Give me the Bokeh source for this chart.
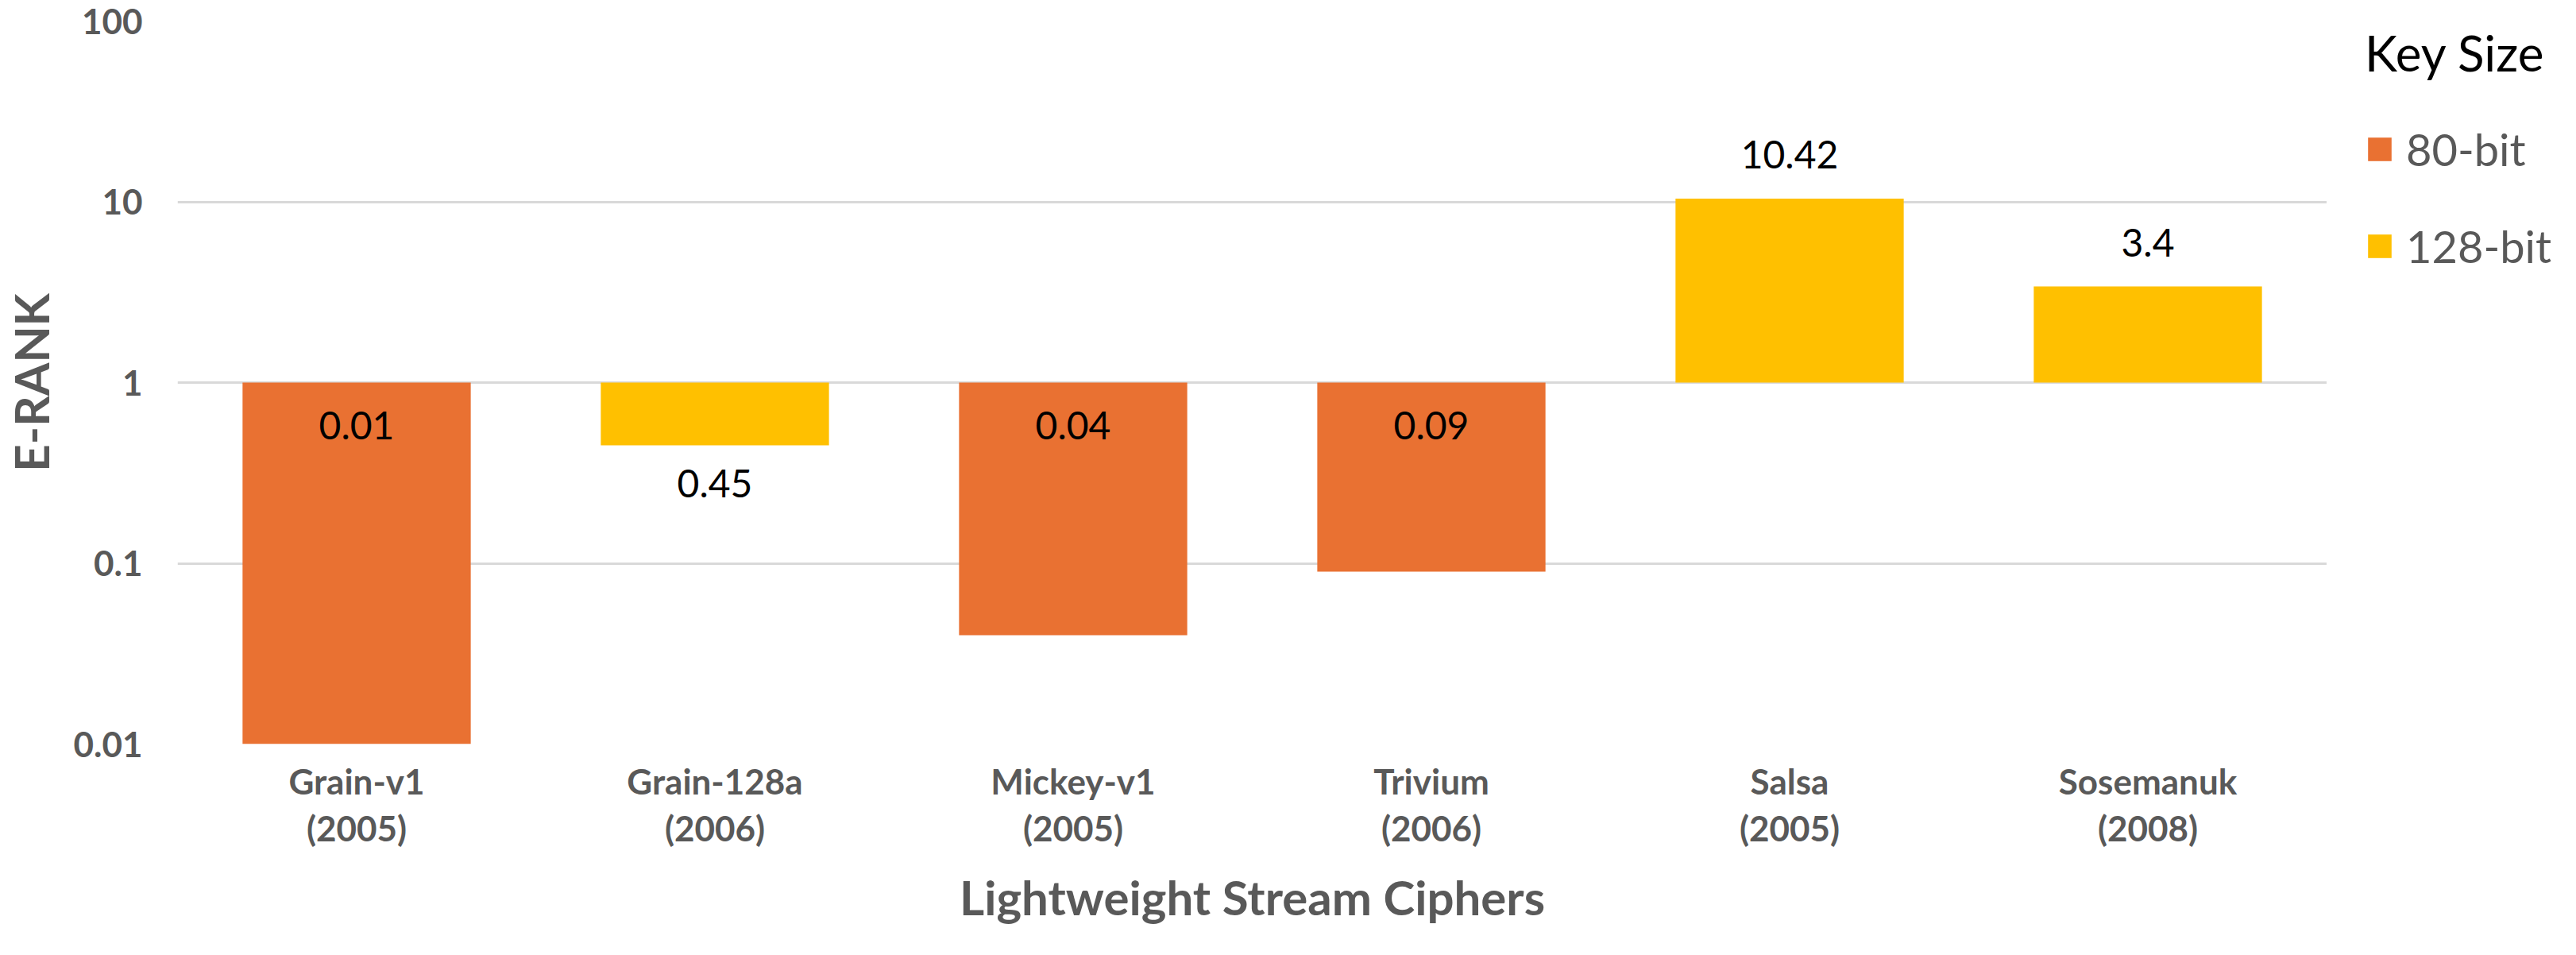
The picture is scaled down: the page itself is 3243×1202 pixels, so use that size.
from bokeh.plotting import figure
from bokeh.layouts import row
from bokeh.models import (ColumnDataSource, FixedTicker, CustomJSTickFormatter,
                          Legend, LegendItem, FactorRange, Range1d)
from bokeh.core.properties import value
from bokeh.embed import file_html
from bokeh.resources import INLINE

# ---- data ----
ciphers = ["Grain-v1", "Grain-128a", "Mickey-v1", "Trivium", "Salsa", "Sosemanuk"]
years = ["2005", "2006", "2005", "2006", "2005", "2008"]
erank = [0.01, 0.45, 0.04, 0.09, 10.42, 3.4]
key_size = ["80-bit", "128-bit", "80-bit", "80-bit", "128-bit", "128-bit"]
key_sizes = ["80-bit", "128-bit"]
y_ticks = [0.01, 0.1, 1, 10, 100]

colors = {"80-bit": "#E97132", "128-bit": "#FFC000"}
FONT = "Lato"
GREY = "#595959"

factors = [f"{c}\n({y})" for c, y in zip(ciphers, years)]

TOTAL_W, TOTAL_H = 3227, 1186
MAIN_W = 2929
BORDER_TOP, BORDER_BOTTOM = 26, 250

p = figure(width=MAIN_W, height=TOTAL_H,
           x_range=FactorRange(*factors),
           y_range=Range1d(0.01, 100), y_axis_type="log",
           output_backend="svg", toolbar_location=None,
           min_border_left=218, min_border_right=0,
           min_border_top=BORDER_TOP, min_border_bottom=BORDER_BOTTOM)

for ks in key_sizes:
    idx = [i for i, k in enumerate(key_size) if k == ks]
    src = ColumnDataSource(dict(x=[factors[i] for i in idx],
                                top=[erank[i] for i in idx],
                                bottom=[1] * len(idx)))
    p.vbar(x="x", top="top", bottom="bottom", width=0.637,
           source=src, fill_color=colors[ks], line_color=None)

# data labels
lab_y, lab_off = [], []
for v in erank:
    if v <= 0.1:
        lab_y.append(1); lab_off.append(54)
    elif v < 1:
        lab_y.append(v); lab_off.append(48)
    else:
        lab_y.append(v); lab_off.append(-55)
p.text(x=factors, y=lab_y, text=[str(v) for v in erank], y_offset=lab_off,
       text_align="center", text_baseline="middle",
       text_font=value(FONT), text_font_size="48px", text_color="black")

# axes
p.yaxis.ticker = FixedTicker(ticks=y_ticks)
p.yaxis.formatter = CustomJSTickFormatter(code="return tick.toString();")
for ax in (p.xaxis[0], p.yaxis[0]):
    ax.axis_line_color = None
    ax.major_tick_line_color = None
    ax.minor_tick_line_color = None
    ax.major_tick_out = 0
    ax.major_tick_in = 0
    ax.major_label_text_font = FONT
    ax.major_label_text_font_style = "bold"
    ax.major_label_text_color = GREY
    ax.major_label_text_font_size = "44px"
    ax.axis_label_text_font = FONT
    ax.axis_label_text_font_style = "bold"
    ax.axis_label_text_color = GREY
    ax.axis_label_text_font_size = "60px"

p.yaxis.major_label_standoff = 44
p.yaxis.axis_label = "E-RANK"
p.yaxis.axis_label_standoff = 14

p.xaxis.major_label_standoff = 20
p.xaxis.major_label_text_line_height = 1.14
p.xaxis.axis_label = "Lightweight Stream Ciphers"
p.xaxis.axis_label_standoff = 22

p.xgrid.grid_line_color = None
p.ygrid.grid_line_color = "#D9D9D9"
p.ygrid.grid_line_width = 3
p.outline_line_color = None

# ---- legend panel (separate plot to the right) ----
q = figure(width=TOTAL_W - MAIN_W, height=TOTAL_H,
           x_range=Range1d(0, 1), y_range=Range1d(0, 1),
           x_axis_location=None, y_axis_location=None,
           output_backend="svg", toolbar_location=None,
           min_border_left=0, min_border_right=0,
           min_border_top=BORDER_TOP, min_border_bottom=BORDER_BOTTOM)
q.grid.grid_line_color = None
q.outline_line_color = None

legend_renderers = []
for ks in key_sizes:
    # zero-size proxy glyph, only used for the legend swatch
    legend_renderers.append(q.vbar(x=[0.5], top=[0], bottom=[0], width=0,
                                   fill_color=colors[ks], line_color=None))

frame_h = TOTAL_H - BORDER_TOP - BORDER_BOTTOM
legend = Legend(items=[LegendItem(label=ks, renderers=[r])
                       for ks, r in zip(key_sizes, legend_renderers)],
                title="Key Size", location=(48, frame_h - (343 - BORDER_TOP)))
legend.title_text_font = FONT
legend.title_text_font_style = "normal"
legend.title_text_font_size = "62px"
legend.title_text_color = "black"
legend.title_standoff = 51
legend.label_text_font = FONT
legend.label_text_font_size = "56px"
legend.label_text_color = GREY
legend.glyph_width = 37
legend.glyph_height = 37
legend.label_standoff = 15
legend.spacing = 55
legend.padding = 0
legend.margin = 0
legend.border_line_color = None
legend.background_fill_alpha = 0
q.add_layout(legend)

layout = row(p, q)
open("out.html", "w").write(file_html(layout, INLINE))
